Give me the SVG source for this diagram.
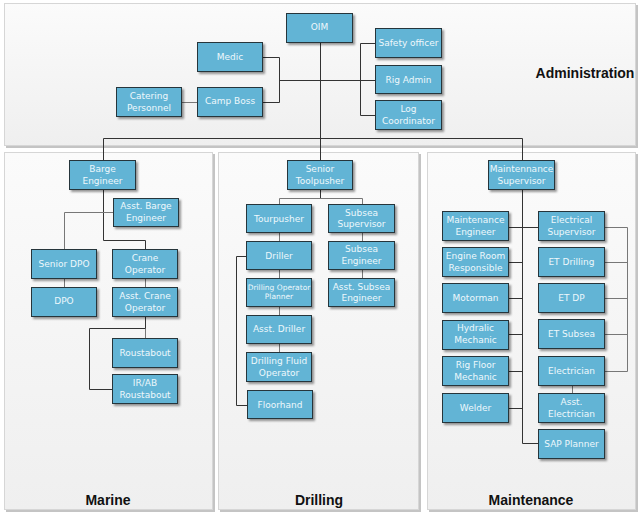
<svg xmlns="http://www.w3.org/2000/svg" width="640" height="513" viewBox="0 0 640 513">
<defs>
<linearGradient id="pg" x1="0" y1="0" x2="0" y2="1">
<stop offset="0" stop-color="#fbfbfb"/>
<stop offset="1" stop-color="#efefef"/>
</linearGradient>
<filter id="sh" x="-10%" y="-10%" width="130%" height="140%">
<feDropShadow dx="2" dy="2" stdDeviation="1" flood-color="#000" flood-opacity="0.4"/>
</filter>
<style>
.panel{fill:url(#pg);stroke:#d6d6d6;stroke-width:1}
.pshadow{fill:#c4c4c4}
.box rect{fill:#62b4d5;stroke:#27343a;stroke-width:1;filter:url(#sh)}
.box text{font-family:"DejaVu Sans",Verdana,sans-serif;font-size:9px;fill:#eef8fc;text-anchor:middle}
.box text.sm{font-size:7.5px}
.title{font-family:"Liberation Sans",Arial,sans-serif;font-size:14px;font-weight:bold;fill:#111;text-anchor:middle}
.conn path{fill:none;stroke:#333;stroke-width:1}
.conn path.g{stroke:#777}
</style>
</defs>

<g id="panels">
<rect class="pshadow" x="6" y="5" width="632" height="143"/>
<rect class="panel" x="4.5" y="3.5" width="631" height="142"/>
<rect class="pshadow" x="6" y="154" width="209" height="358"/>
<rect class="panel" x="4.5" y="152.5" width="208" height="357"/>
<rect class="pshadow" x="220" y="154" width="201" height="358"/>
<rect class="panel" x="218.5" y="152.5" width="200" height="357"/>
<rect class="pshadow" x="429" y="154" width="209" height="358"/>
<rect class="panel" x="427.5" y="152.5" width="208" height="357"/>
<text class="title" x="585" y="78">Administration</text>
<text class="title" x="108" y="505">Marine</text>
<text class="title" x="319" y="505">Drilling</text>
<text class="title" x="531" y="505">Maintenance</text>
</g>

<g class="conn" id="connectors">
<path d="M320.5 43V138"/>
<path d="M103.5 160V138.5H522.5V160"/>
<path d="M320.5 138V160"/>
<path d="M263 57.5H279.5V102.5H263"/>
<path d="M279.5 80.5H375"/>
<path class="g" d="M182 102.5H197"/>
<path d="M375 43.5H360.5V115.5H375"/>
<path d="M360.5 80.5H375"/>

<path d="M103.5 190V240.5H145.5V249"/>
<path class="g" d="M64.5 249V212.5H113"/>
<path class="g" d="M64.5 279V287"/>
<path class="g" d="M145.5 279V287"/>
<path d="M145.5 317V328"/>
<path class="g" d="M145.5 328V338"/>
<path d="M145.5 328.5H89.5V389.5H112"/>

<path d="M320.5 190V198"/>
<path class="g" d="M279.5 204V198.5H362.5V204"/>
<path class="g" d="M279.5 233V241"/>
<path class="g" d="M279.5 270V278"/>
<path class="g" d="M279.5 307V315"/>
<path class="g" d="M279.5 344V352"/>
<path d="M246 256.5H236.5V405.5H247"/>
<path class="g" d="M362.5 233V241"/>
<path class="g" d="M362.5 270V278"/>

<path d="M522.5 190V443.5H538"/>
<path d="M509 227.5H538"/>
<path d="M509 262.5H522"/>
<path d="M509 298.5H522"/>
<path d="M509 334.5H522"/>
<path d="M509 371.5H522"/>
<path d="M509 408.5H522"/>
<path class="g" d="M605 227.5H627.5V371.5H605"/>
<path class="g" d="M605 262.5H627"/>
<path class="g" d="M605 298.5H627"/>
<path class="g" d="M605 334.5H627"/>
<path class="g" d="M572.5 386V393"/>
</g>

<g id="oim" class="box"><rect x="286.5" y="13.5" width="66" height="29"/><text x="319.5" y="30">OIM</text></g>
<g id="medic" class="box"><rect x="197.5" y="42.5" width="65" height="29"/><text x="230" y="59.5">Medic</text></g>
<g id="catering" class="box"><rect x="116.5" y="87.5" width="65" height="29"/><text x="149" y="99">Catering</text><text x="149" y="110.5">Personnel</text></g>
<g id="campboss" class="box"><rect x="197.5" y="87.5" width="65" height="29"/><text x="230" y="104">Camp Boss</text></g>
<g id="safety" class="box"><rect x="375.5" y="28.5" width="66" height="29"/><text x="408.5" y="45.5">Safety officer</text></g>
<g id="rigadmin" class="box"><rect x="375.5" y="65.5" width="66" height="28"/><text x="408.5" y="82.5">Rig Admin</text></g>
<g id="logcoord" class="box"><rect x="375.5" y="100.5" width="66" height="29"/><text x="408.5" y="112">Log</text><text x="408.5" y="123.5">Coordinator</text></g>

<g id="barge" class="box"><rect x="69.5" y="160.5" width="66" height="29"/><text x="102.5" y="171.5">Barge</text><text x="102.5" y="183.5">Engineer</text></g>
<g id="asstbarge" class="box"><rect x="113.5" y="198.5" width="65" height="28"/><text x="146" y="209">Asst. Barge</text><text x="146" y="221">Engineer</text></g>
<g id="seniordpo" class="box"><rect x="31.5" y="249.5" width="65" height="29"/><text x="64" y="266.5">Senior DPO</text></g>
<g id="crane" class="box"><rect x="112.5" y="249.5" width="65" height="29"/><text x="145" y="261">Crane</text><text x="145" y="273">Operator</text></g>
<g id="dpo" class="box"><rect x="31.5" y="287.5" width="65" height="29"/><text x="64" y="304">DPO</text></g>
<g id="asstcrane" class="box"><rect x="112.5" y="287.5" width="65" height="29"/><text x="145" y="298.5">Asst. Crane</text><text x="145" y="310.5">Operator</text></g>
<g id="roustabout" class="box"><rect x="112.5" y="338.5" width="65" height="29"/><text x="145" y="355.5">Roustabout</text></g>
<g id="irab" class="box"><rect x="112.5" y="374.5" width="65" height="29"/><text x="145" y="386">IR/AB</text><text x="145" y="398">Roustabout</text></g>

<g id="seniortool" class="box"><rect x="287.5" y="160.5" width="65" height="29"/><text x="320" y="171.5">Senior</text><text x="320" y="183.5">Toolpusher</text></g>
<g id="tourpusher" class="box"><rect x="246.5" y="204.5" width="65" height="28"/><text x="279" y="221.5">Tourpusher</text></g>
<g id="subseasup" class="box"><rect x="328.5" y="204.5" width="66" height="28"/><text x="361.5" y="215.5">Subsea</text><text x="361.5" y="227">Supervisor</text></g>
<g id="driller" class="box"><rect x="246.5" y="241.5" width="65" height="28"/><text x="279" y="258.5">Driller</text></g>
<g id="subseaeng" class="box"><rect x="328.5" y="241.5" width="66" height="28"/><text x="361.5" y="252">Subsea</text><text x="361.5" y="263.5">Engineer</text></g>
<g id="dop" class="box"><rect x="246.5" y="278.5" width="65" height="28"/><text class="sm" x="279" y="290">Drilling Operator</text><text class="sm" x="279" y="298.5">Planner</text></g>
<g id="asstsubsea" class="box"><rect x="328.5" y="278.5" width="66" height="28"/><text x="361.5" y="289.5">Asst. Subsea</text><text x="361.5" y="301">Engineer</text></g>
<g id="asstdriller" class="box"><rect x="246.5" y="315.5" width="65" height="28"/><text x="279" y="332">Asst. Driller</text></g>
<g id="dfo" class="box"><rect x="246.5" y="352.5" width="65" height="29"/><text x="279" y="364">Drilling Fluid</text><text x="279" y="375.5">Operator</text></g>
<g id="floorhand" class="box"><rect x="247.5" y="390.5" width="65" height="28"/><text x="280" y="407.5">Floorhand</text></g>

<g id="maintsup" class="box"><rect x="488.5" y="160.5" width="66" height="29"/><text x="521.5" y="171.5">Maintennance</text><text x="521.5" y="183.5">Supervisor</text></g>
<g id="mainteng" class="box"><rect x="442.5" y="211.5" width="66" height="29"/><text x="475.5" y="222.5">Maintenance</text><text x="475.5" y="234.5">Engineer</text></g>
<g id="engineroom" class="box"><rect x="442.5" y="247.5" width="66" height="29"/><text x="475.5" y="258.5">Engine Room</text><text x="475.5" y="270.5">Responsible</text></g>
<g id="motorman" class="box"><rect x="442.5" y="283.5" width="66" height="29"/><text x="475.5" y="300.5">Motorman</text></g>
<g id="hydralic" class="box"><rect x="442.5" y="320.5" width="66" height="29"/><text x="475.5" y="331">Hydralic</text><text x="475.5" y="343">Mechanic</text></g>
<g id="rigfloor" class="box"><rect x="442.5" y="356.5" width="66" height="29"/><text x="475.5" y="367.5">Rig Floor</text><text x="475.5" y="379.5">Mechanic</text></g>
<g id="welder" class="box"><rect x="442.5" y="393.5" width="66" height="29"/><text x="475.5" y="410.5">Welder</text></g>
<g id="elecsup" class="box"><rect x="538.5" y="211.5" width="66" height="29"/><text x="571.5" y="222.5">Electrical</text><text x="571.5" y="234.5">Supervisor</text></g>
<g id="etdrilling" class="box"><rect x="538.5" y="247.5" width="66" height="29"/><text x="571.5" y="264.5">ET Drilling</text></g>
<g id="etdp" class="box"><rect x="538.5" y="283.5" width="66" height="29"/><text x="571.5" y="300.5">ET DP</text></g>
<g id="etsubsea" class="box"><rect x="538.5" y="319.5" width="66" height="29"/><text x="571.5" y="336.5">ET Subsea</text></g>
<g id="electrician" class="box"><rect x="538.5" y="356.5" width="66" height="29"/><text x="571.5" y="373.5">Electrician</text></g>
<g id="asstelec" class="box"><rect x="538.5" y="393.5" width="66" height="29"/><text x="571.5" y="404.5">Asst.</text><text x="571.5" y="416.5">Electrician</text></g>
<g id="sapplanner" class="box"><rect x="538.5" y="429.5" width="66" height="29"/><text x="571.5" y="446.5">SAP Planner</text></g>
</svg>
